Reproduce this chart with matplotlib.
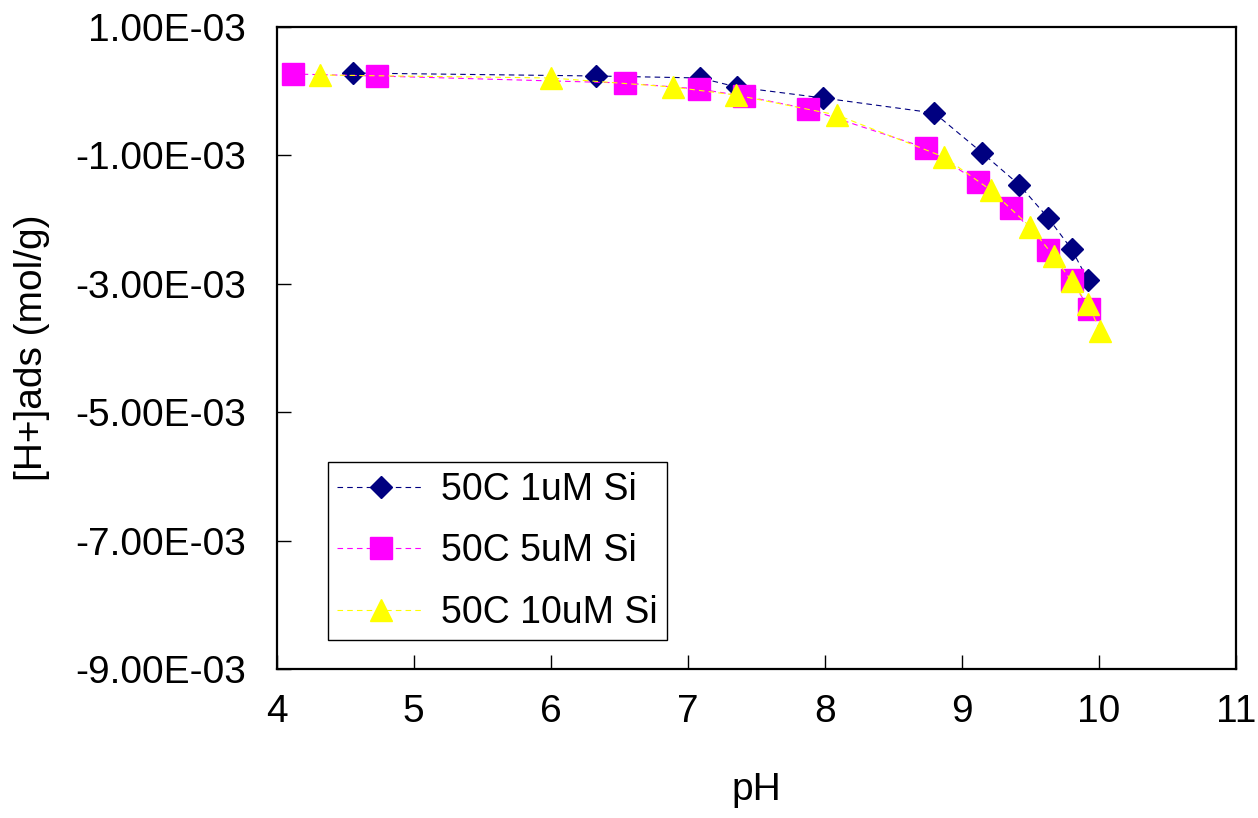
import matplotlib
matplotlib.use("Agg")
import matplotlib.pyplot as plt
from matplotlib.ticker import FuncFormatter

plt.rcParams['font.family'] = ['Liberation Sans', 'DejaVu Sans']
plt.rcParams['lines.scale_dashes'] = False

# Proton adsorption vs pH at 50 C for three dissolved Si levels
ph_1uM = [4.56, 6.33, 7.09, 7.36, 7.99, 8.80, 9.15, 9.42, 9.63, 9.80, 9.92]
h_1uM = [0.283e-3, 0.237e-3, 0.206e-3, 0.065e-3, -0.106e-3, -0.340e-3,
         -0.963e-3, -1.461e-3, -1.975e-3, -2.458e-3, -2.941e-3]

ph_5uM = [4.12, 4.73, 6.54, 7.08, 7.41, 7.88, 8.74, 9.12, 9.36, 9.63, 9.80, 9.93]
h_5uM = [0.268e-3, 0.237e-3, 0.128e-3, 0.034e-3, -0.075e-3, -0.277e-3,
         -0.885e-3, -1.414e-3, -1.819e-3, -2.474e-3, -2.941e-3, -3.393e-3]

ph_10uM = [4.32, 6.00, 6.89, 7.35, 8.09, 8.87, 9.21, 9.50, 9.67, 9.80, 9.92, 10.01]
h_10uM = [0.252e-3, 0.206e-3, 0.065e-3, -0.059e-3, -0.371e-3, -1.025e-3,
          -1.539e-3, -2.115e-3, -2.567e-3, -2.956e-3, -3.315e-3, -3.735e-3]

labels = ["50C 1uM Si", "50C 5uM Si", "50C 10uM Si"]
x_ticks = [4, 5, 6, 7, 8, 9, 10, 11]
y_ticks = [1e-3, -1e-3, -3e-3, -5e-3, -7e-3, -9e-3]

FS = 28

fig = plt.figure(figsize=(12.58, 8.18), dpi=100)
ax = fig.add_axes([0.2198, 0.182, 0.7627, 0.785])

dash = (4, 3)
ax.plot(ph_1uM, h_1uM, color='#000080', lw=0.8, dashes=dash,
        marker='D', ms=11.2, mfc='#000080', mec='#000080', label=labels[0], zorder=3)
ax.plot(ph_5uM, h_5uM, color='#FF00FF', lw=0.8, dashes=dash,
        marker='s', ms=15.5, mfc='#FF00FF', mec='#FF00FF', label=labels[1], zorder=4)
ax.plot(ph_10uM, h_10uM, color='#FFFF00', lw=0.8, dashes=dash,
        marker='^', ms=16, mfc='#FFFF00', mec='#FFFF00', label=labels[2], zorder=5)

ax.set_xlim(4, 11)
ax.set_ylim(-9e-3, 1e-3)
ax.set_xticks(x_ticks)
ax.set_yticks(y_ticks)


def sci_fmt(v, pos):
    s = f"{v:.2E}"
    mant, exp = s.split("E")
    e = int(exp)
    return f"{mant}E{'-' if e < 0 else '+'}{abs(e):02d}"


ax.yaxis.set_major_formatter(FuncFormatter(sci_fmt))
ax.tick_params(direction='in', length=10, width=1, labelsize=FS, colors='black')
ax.tick_params(axis='x', pad=18)
ax.tick_params(axis='y', pad=22)
for sp in ax.spines.values():
    sp.set_linewidth(1.6)
    sp.set_color('black')

ax.set_xlabel("pH", fontsize=FS, labelpad=30)
ax.set_ylabel("[H+]ads (mol/g)", fontsize=FS, labelpad=18)

leg = ax.legend(loc='lower left', bbox_to_anchor=(0.0537, 0.045), borderaxespad=0,
                fontsize=27, numpoints=1, handlelength=2.3, handletextpad=0.45,
                labelspacing=0.68, borderpad=0.25, fancybox=False, framealpha=1)
leg.get_frame().set_edgecolor('black')
leg.get_frame().set_linewidth(1.0)

fig.savefig("out.png", dpi=100, facecolor='white')
